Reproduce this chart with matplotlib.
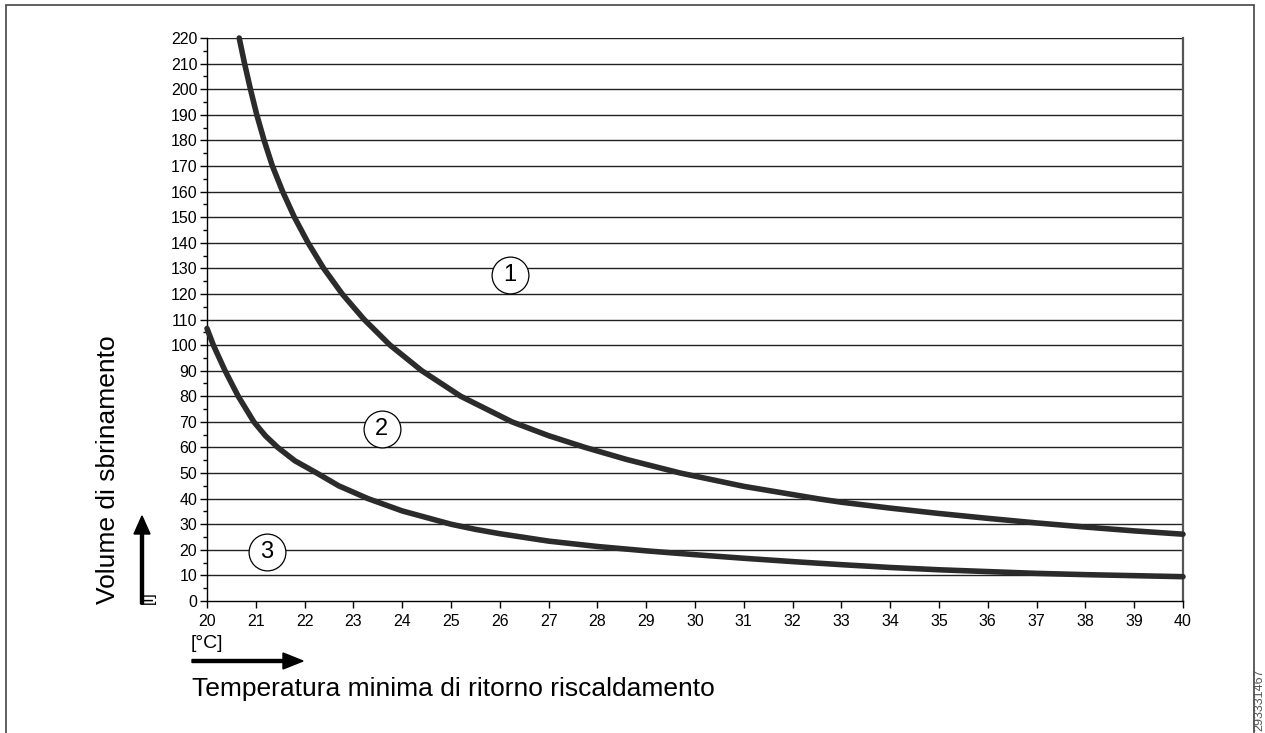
import matplotlib
matplotlib.use("Agg")
import matplotlib.pyplot as plt
from matplotlib.patches import Rectangle, FancyArrow
from matplotlib.ticker import MultipleLocator

plt.rcParams['font.family'] = ['Liberation Sans', 'DejaVu Sans']

# Curve 1 (upper)
x_curve1 = [20.66, 20.77, 20.89, 21.02, 21.17, 21.34, 21.55, 21.79, 22.07, 22.39,
            22.77, 23.22, 23.75, 24.40, 25.20, 26.25, 27.0, 27.75, 28.6, 29.7,
            31.0, 32.5, 33.0, 34.0, 35.0, 36.0, 37.0, 38.0, 39.0, 40.0]
y_curve1 = [220, 210, 200, 190, 180, 170, 160, 150, 140, 130,
            120, 110, 100, 90, 80, 70, 64.6, 60, 55.3, 50,
            44.8, 40, 38.6, 36.3, 34.2, 32.3, 30.5, 28.9, 27.4, 26.1]

# Curve 2 (lower)
x_curve2 = [20.0, 20.13, 20.37, 20.64, 20.96, 21.2, 21.45, 21.8, 22.25, 22.7,
            23.3, 24.0, 25.0, 25.5, 26.0, 27.0, 28.0, 29.0, 30.0, 31.0,
            32.0, 33.0, 34.0, 35.0, 36.0, 37.0, 38.0, 39.0, 40.0]
y_curve2 = [106.5, 100, 90, 80, 70, 64.5, 60, 54.8, 50, 45,
            40, 35.2, 30, 28.0, 26.3, 23.4, 21.3, 19.6, 18.1, 16.7,
            15.4, 14.2, 13.1, 12.2, 11.5, 10.8, 10.3, 9.9, 9.5]

region_labels = ["1", "2", "3"]
x_ticks = list(range(20, 41))
y_ticks = list(range(0, 221, 10))

W, H = 1265, 733
fig = plt.figure(figsize=(W / 100, H / 100), dpi=100)
ax = fig.add_axes([207 / W, (H - 601) / H, 976 / W, 563 / H])

ax.set_xlim(20, 40)
ax.set_ylim(0, 220)
ax.set_xticks(x_ticks)
ax.set_yticks(y_ticks)
ax.yaxis.set_minor_locator(MultipleLocator(5))
ax.tick_params(axis='both', which='major', direction='out', length=5, width=1,
               labelsize=11.5, color='black', pad=2)
ax.tick_params(axis='y', which='minor', direction='out', length=3, width=1)
ax.tick_params(axis='x', pad=4)

for yv in y_ticks[1:]:
    ax.axhline(yv, color='#222222', lw=1.0, zorder=1)

ax.spines['top'].set_visible(False)
ax.spines['left'].set_linewidth(1.0)
ax.spines['bottom'].set_linewidth(1.0)
ax.spines['right'].set_color('#555555')
ax.spines['right'].set_linewidth(1.6)

ax.plot(x_curve1, y_curve1, color='#2b2b2b', lw=4.0, solid_capstyle='round',
        solid_joinstyle='round', zorder=3, clip_on=False)
ax.plot(x_curve2, y_curve2, color='#2b2b2b', lw=4.0, solid_capstyle='round',
        solid_joinstyle='round', zorder=3, clip_on=False)

label_pos = [(26.21, 127.5), (23.58, 67.2), (21.22, 19.1)]
for lab, (lx, ly) in zip(region_labels, label_pos):
    ax.plot([lx], [ly], marker='o', markersize=26.5, mfc='white', mec='black', mew=0.9, zorder=4)
    ax.text(lx, ly, lab, ha='center', va='center', fontsize=17, zorder=5)

# Axis titles and arrows
fig.text(108 / W, 1 - 604 / H, "Volume di sbrinamento", rotation=90,
         ha='center', va='bottom', fontsize=19)
fig.text(148 / W, 1 - 604 / H, "[l]", rotation=90, ha='center', va='bottom', fontsize=12)
fig.text(191 / W, 1 - 643 / H, "[°C]", ha='left', va='center', fontsize=14)
fig.text(192 / W, 1 - 689 / H, "Temperatura minima di ritorno riscaldamento",
         ha='left', va='center', fontsize=19)

fig.patches.append(FancyArrow(
    192 / W, 1 - 661 / H, 111 / W, 0, width=3 / H, head_width=16 / H, head_length=20 / W,
    length_includes_head=True, color='black', transform=fig.transFigure, figure=fig))
fig.patches.append(FancyArrow(
    142 / W, 1 - 604 / H, 0, 88 / H, width=3 / W, head_width=16 / W, head_length=18 / H,
    length_includes_head=True, color='black', transform=fig.transFigure, figure=fig))

# Outer frame
fig.patches.append(Rectangle((6 / W, -0.05), 1248 / W, 1.05 - 5 / H, fill=False,
                             ec='#444444', lw=1.2, transform=fig.transFigure, figure=fig))
fig.text(1265 / W, 1 - 731 / H, "293331467", rotation=90, ha='right', va='bottom',
         fontsize=9, color='#555555')

fig.savefig("out.png", dpi=100)
